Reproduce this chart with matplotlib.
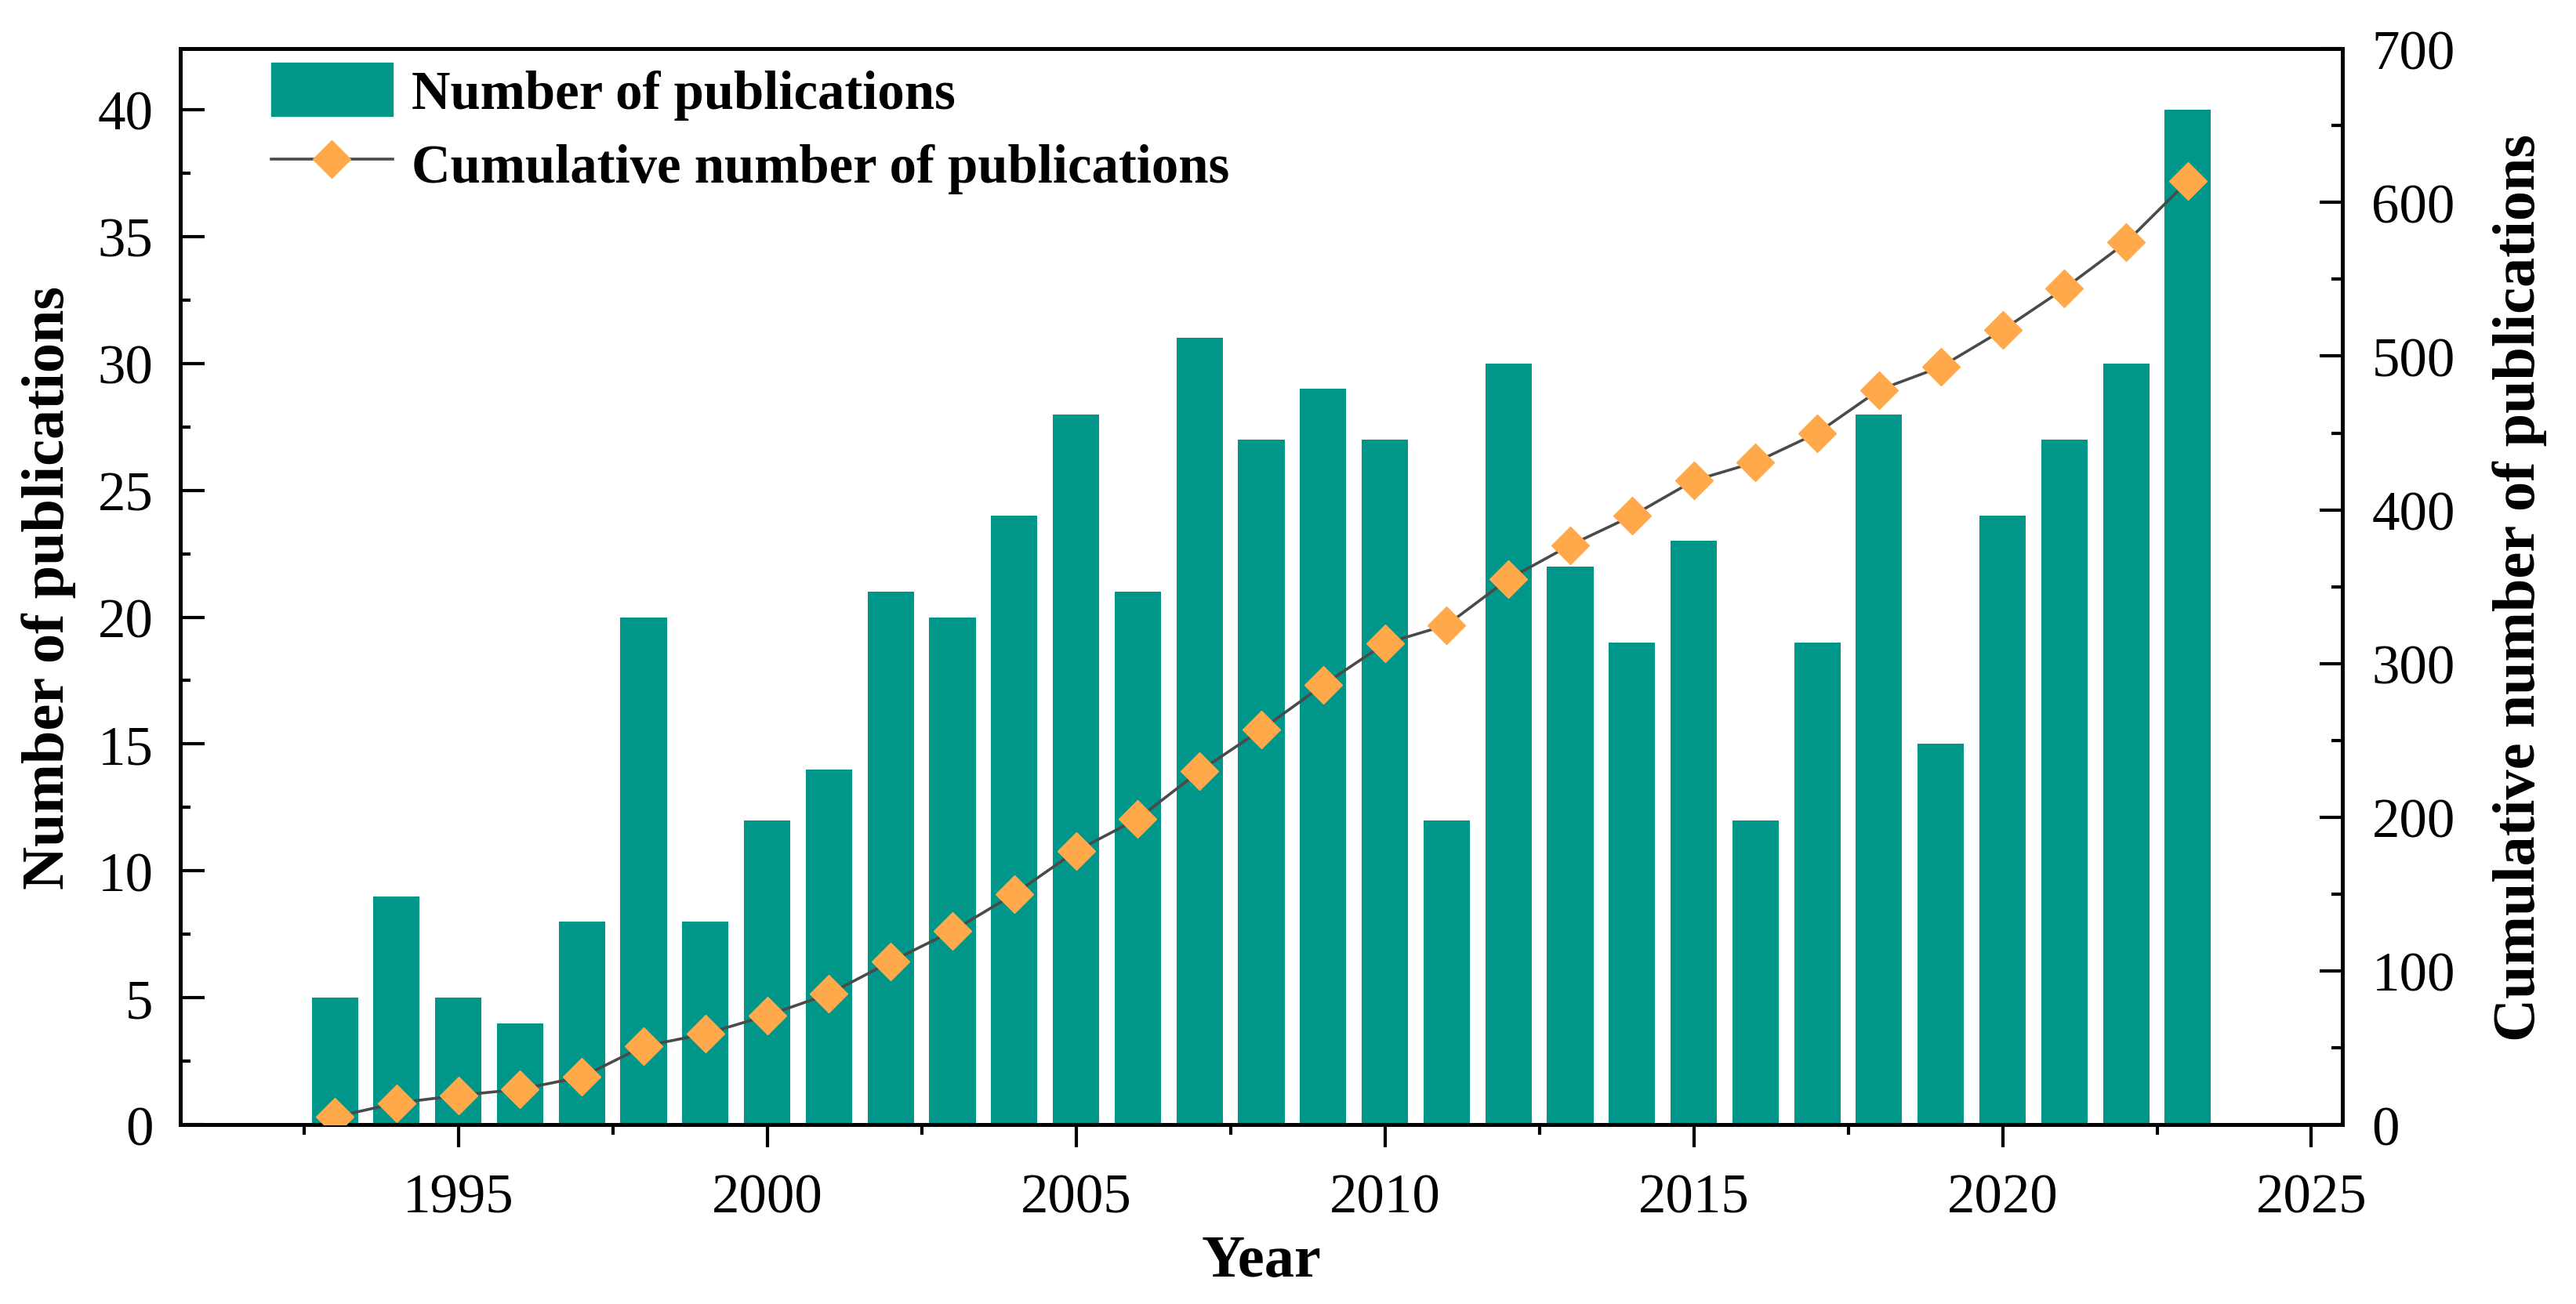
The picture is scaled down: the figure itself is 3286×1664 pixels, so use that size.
import matplotlib
matplotlib.use("Agg")
import matplotlib.pyplot as plt
from matplotlib.ticker import MultipleLocator
from matplotlib.patches import Patch
from matplotlib.lines import Line2D

# --- datos ---
years = [1993, 1994, 1995, 1996, 1997, 1998, 1999, 2000, 2001, 2002, 2003,
         2004, 2005, 2006, 2007, 2008, 2009, 2010, 2011, 2012, 2013, 2014,
         2015, 2016, 2017, 2018, 2019, 2020, 2021, 2022, 2023]
publications = [5, 9, 5, 4, 8, 20, 8, 12, 14, 21, 20,
                24, 28, 21, 31, 27, 29, 27, 12, 30, 22, 19,
                23, 12, 19, 28, 15, 24, 27, 30, 40]
cumulative = [5, 14, 19, 23, 31, 51, 59, 71, 85, 106, 126,
              150, 178, 199, 230, 257, 286, 313, 325, 355, 377, 396,
              419, 431, 450, 478, 493, 517, 544, 574, 614]

BAR_COLOR = "#00968A"
MARKER_COLOR = "#FFA94A"
LINE_COLOR = "#4A4A4A"

plt.rcParams["font.family"] = ["Liberation Serif", "DejaVu Serif"]

fig = plt.figure(figsize=(32.87, 16.65), dpi=100)
ax = fig.add_axes([0.070, 0.1375, 0.839, 0.8245])
ax2 = ax.twinx()

ax.bar(years, publications, width=0.75, color=BAR_COLOR, zorder=2)
ax2.plot(years, cumulative, "-", color=LINE_COLOR, linewidth=2.6,
         marker="D", markersize=24, markerfacecolor=MARKER_COLOR,
         markeredgecolor=MARKER_COLOR, zorder=3)

ax.set_xlim(1990.5, 2025.5)
ax.set_ylim(0, 42.4)
ax2.set_ylim(0, 700)

ax.xaxis.set_major_locator(MultipleLocator(5))
ax.xaxis.set_minor_locator(MultipleLocator(2.5))
ax.yaxis.set_major_locator(MultipleLocator(5))
ax.yaxis.set_minor_locator(MultipleLocator(2.5))
ax2.yaxis.set_major_locator(MultipleLocator(100))
ax2.yaxis.set_minor_locator(MultipleLocator(50))

for a in (ax, ax2):
    for s in a.spines.values():
        s.set_linewidth(3.5)

ax.tick_params(axis="x", which="both", direction="out", width=3, labelsize=51, pad=23)
ax.tick_params(axis="x", which="major", length=21)
ax.tick_params(axis="x", which="minor", length=9)
ax.tick_params(axis="y", which="both", direction="in", width=3, labelsize=51, pad=25)
ax.tick_params(axis="y", which="major", length=22)
ax.tick_params(axis="y", which="minor", length=9)
ax2.tick_params(axis="y", which="both", direction="in", width=3, labelsize=51, pad=27)
ax2.tick_params(axis="y", which="major", length=21)
ax2.tick_params(axis="y", which="minor", length=10)

ax.set_xlabel("Year", fontsize=55, fontweight="bold", labelpad=10)
ax.set_ylabel("Number of publications", fontsize=55, fontweight="bold", labelpad=20)
ax2.set_ylabel("Cumulative number of publications", fontsize=55, fontweight="bold", labelpad=34)

handles = [
    Patch(facecolor=BAR_COLOR, edgecolor=BAR_COLOR),
    Line2D([], [], color=LINE_COLOR, linewidth=2.6, marker="D", markersize=24,
           markerfacecolor=MARKER_COLOR, markeredgecolor=MARKER_COLOR),
]
labels = ["Number of publications", "Cumulative number of publications"]
leg = ax2.legend(handles, labels, loc="upper left", bbox_to_anchor=(0.042, 0.987),
                 frameon=False, borderaxespad=0, borderpad=0,
                 handlelength=2.25, handleheight=1.15, handletextpad=0.35,
                 labelspacing=0.32, prop={"size": 49.5, "weight": "bold"})

fig.savefig("out.png", dpi=100, facecolor="white")
